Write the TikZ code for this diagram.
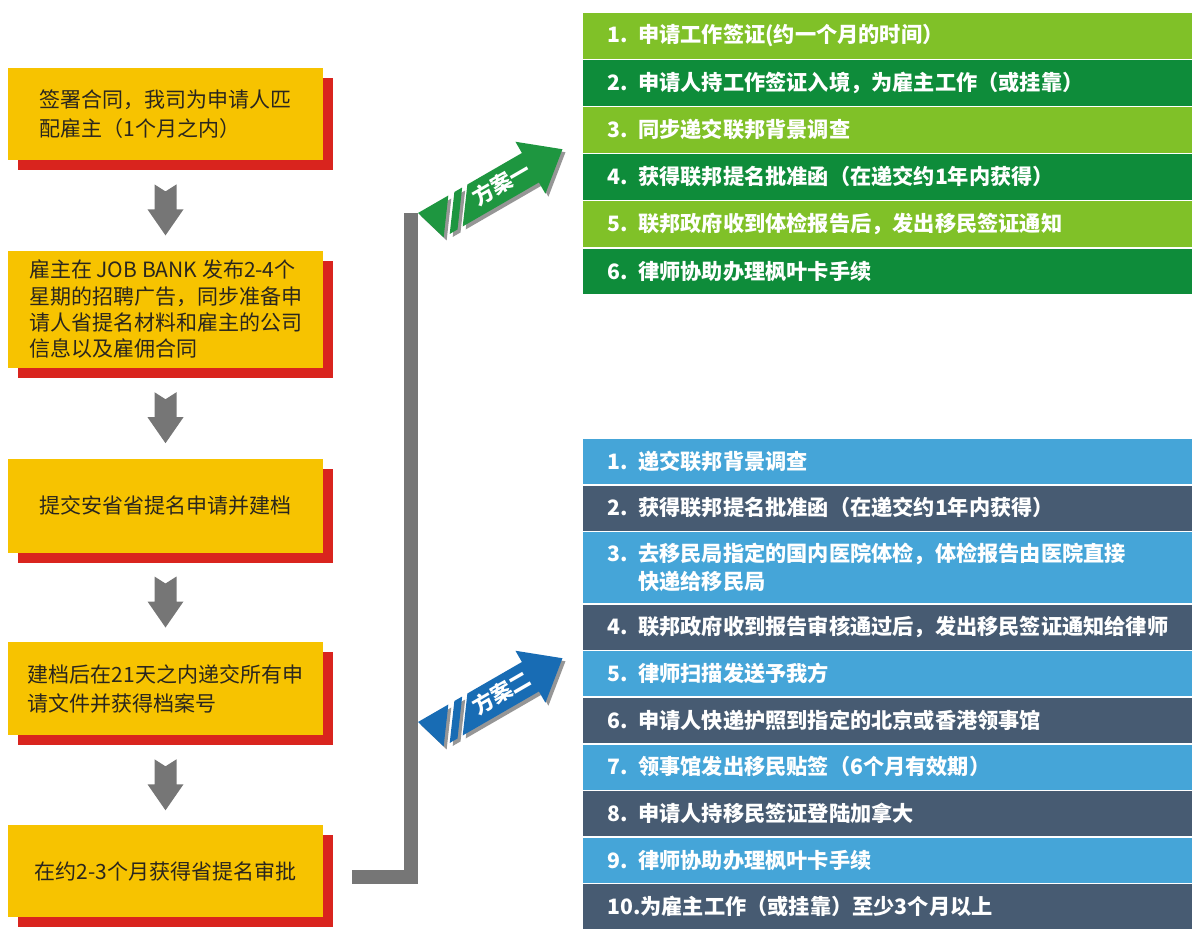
\documentclass[tikz,border=0pt]{standalone}
\usepackage{fontspec}
\setmainfont{Noto Sans CJK SC}
\usepackage{tikz}
\usetikzlibrary{
    positioning,
    shadows,
    calc
}
\definecolor{StepYellow}{RGB}{247,195,0}
\definecolor{StepRed}{RGB}{217,36,30}
\definecolor{StepText}{RGB}{42,38,30}
\definecolor{BarGray}{RGB}{118,118,118}
\definecolor{ShadowGray}{RGB}{150,150,150}
\definecolor{PlanGreen}{RGB}{30,150,64}
\definecolor{PlanBlue}{RGB}{24,108,180}
\definecolor{LightGreen}{RGB}{128,193,40}
\definecolor{DarkGreen}{RGB}{14,140,58}
\definecolor{LightBlue}{RGB}{69,165,216}
\definecolor{Slate}{RGB}{71,91,114}
\tikzset{
  stepbox/.style = {fill=StepYellow, text=StepText, minimum width=157.5pt,
                    minimum height=46pt, align=left, inner sep=0pt,
                    font=\fontsize{10.5}{14.5}\selectfont,
                    drop shadow={shadow xshift=5pt, shadow yshift=-5pt,
                                 fill=StepRed, opacity=1}},
  rowbox/.style  = {draw=white, line width=0.3pt, text=white, align=left,
                    text width=280pt, inner xsep=12.5pt, inner ysep=0pt,
                    minimum height=23.25pt,
                    font=\fontsize{10.6}{14}\selectfont\bfseries},
  plantext/.style = {text=white, font=\fontsize{10.5}{12}\selectfont\bfseries,
                     transform shape, inner sep=0pt},
  bar/.style     = {BarGray, line width=7pt},
  downarr/.pic   = {\fill[BarGray] (-11,-21) -- (0,-14) -- (11,-21) -- (11,4)
                      -- (18,4) -- (0,30) -- (-18,4) -- (-11,4) -- cycle;},
  planshape/.pic = {\path[pic actions] (0,0) -- (35,0) -- (10,34) -- cycle
                      (42,0) -- (51,0) -- (26,34) -- (17,34) -- cycle
                      (57,0) -- (120,0) -- (120,-13) -- (157,17) -- (120,47)
                      -- (120,34) -- (32,34) -- cycle;}
}
% #1 tail point, #2 colour, #3 label, #4 name
\newcommand{\planarrow}[4]{%
  \begin{scope}[shift={(#1)}, xshift=1.5pt, yshift=-1.5pt, rotate=30]
    \pic[fill=ShadowGray, transform shape] {planshape};
  \end{scope}
  \begin{scope}[shift={(#1)}, rotate=30]
    \pic[fill=#2, transform shape] {planshape};
    \node[plantext] (#4) at (87,16) {#3};
  \end{scope}}

\begin{document}
\begin{tikzpicture}[x=0.5pt, y=-0.5pt]
\useasboundingbox (0,0) rectangle (1200,932);

% left column
\node[stepbox] (s1) at (165.5,114)
    {签署合同，我司为申请人匹\\配雇主（1个月之内）};
\node[stepbox, minimum height=58.5pt, below=45pt of s1, font=\fontsize{10.5}{13.2}\selectfont] (s2)
    {雇主在 JOB BANK 发布2-4个\\星期的招聘广告，同步准备申\\请人省提名材料和雇主的公司\\信息以及雇佣合同};
\node[stepbox, minimum height=47pt, below=45pt of s2] (s3)
    {提交安省省提名申请并建档};
\node[stepbox, minimum height=46.5pt, below=44.5pt of s3] (s4)
    {建档后在21天之内递交所有申\\请文件并获得档案号};
\node[stepbox, below=44.5pt of s4] (s5)
    {在约2-3个月获得省提名审批};

\pic at ($(s1.south)!0.5!(s2.north)$) {downarr};
\pic at ($(s2.south)!0.5!(s3.north)$) {downarr};
\pic at ($(s3.south)!0.5!(s4.north)$) {downarr};
\pic at ($(s4.south)!0.5!(s5.north)$) {downarr};

% fork
\coordinate (split) at (411,213);
\draw[bar] ([xshift=14.5pt, yshift=-3pt]s5.east) -| (split);

\planarrow{418,213}{PlanGreen}{方案一}{plan1}
\planarrow{418,722}{PlanBlue}{方案二}{plan2}

% plan one
\node[rowbox, fill=LightGreen, anchor=north west] (one1) at (582,12)
    {1. 申请工作签证(约一个月的时间）};
\node[rowbox, fill=DarkGreen, below=0pt of one1] (one2)
    {2. 申请人持工作签证入境，为雇主工作（或挂靠）};
\node[rowbox, fill=LightGreen, below=0pt of one2] (one3)
    {3. 同步递交联邦背景调查};
\node[rowbox, fill=DarkGreen, below=0pt of one3] (one4)
    {4. 获得联邦提名批准函（在递交约1年内获得）};
\node[rowbox, fill=LightGreen, below=0pt of one4] (one5)
    {5. 联邦政府收到体检报告后，发出移民签证通知};
\node[rowbox, fill=DarkGreen, below=0pt of one5] (one6)
    {6. 律师协助办理枫叶卡手续};

% plan two
\node[rowbox, fill=LightBlue, minimum height=23pt, anchor=north west] (two1) at (582,438)
    {1. 递交联邦背景调查};
\node[rowbox, fill=Slate, minimum height=23pt, below=0pt of two1] (two2)
    {2. 获得联邦提名批准函（在递交约1年内获得）};
\node[rowbox, fill=LightBlue, minimum height=36pt, below=0pt of two2] (two3)
    {3. 去移民局指定的国内医院体检，体检报告由医院直接\\\hphantom{3. }快递给移民局};
\node[rowbox, fill=Slate, minimum height=23pt, below=0pt of two3] (two4)
    {4. 联邦政府收到报告审核通过后，发出移民签证通知给律师};
\node[rowbox, fill=LightBlue, minimum height=23pt, below=0pt of two4] (two5)
    {5. 律师扫描发送予我方};
\node[rowbox, fill=Slate, minimum height=23pt, below=0pt of two5] (two6)
    {6. 申请人快递护照到指定的北京或香港领事馆};
\node[rowbox, fill=LightBlue, minimum height=23pt, below=0pt of two6] (two7)
    {7. 领事馆发出移民贴签（6个月有效期）};
\node[rowbox, fill=Slate, minimum height=23pt, below=0pt of two7] (two8)
    {8. 申请人持移民签证登陆加拿大};
\node[rowbox, fill=LightBlue, minimum height=23pt, below=0pt of two8] (two9)
    {9. 律师协助办理枫叶卡手续};
\node[rowbox, fill=Slate, minimum height=23pt, below=0pt of two9] (two10)
    {10.为雇主工作（或挂靠）至少3个月以上};
\end{tikzpicture}
\end{document}
